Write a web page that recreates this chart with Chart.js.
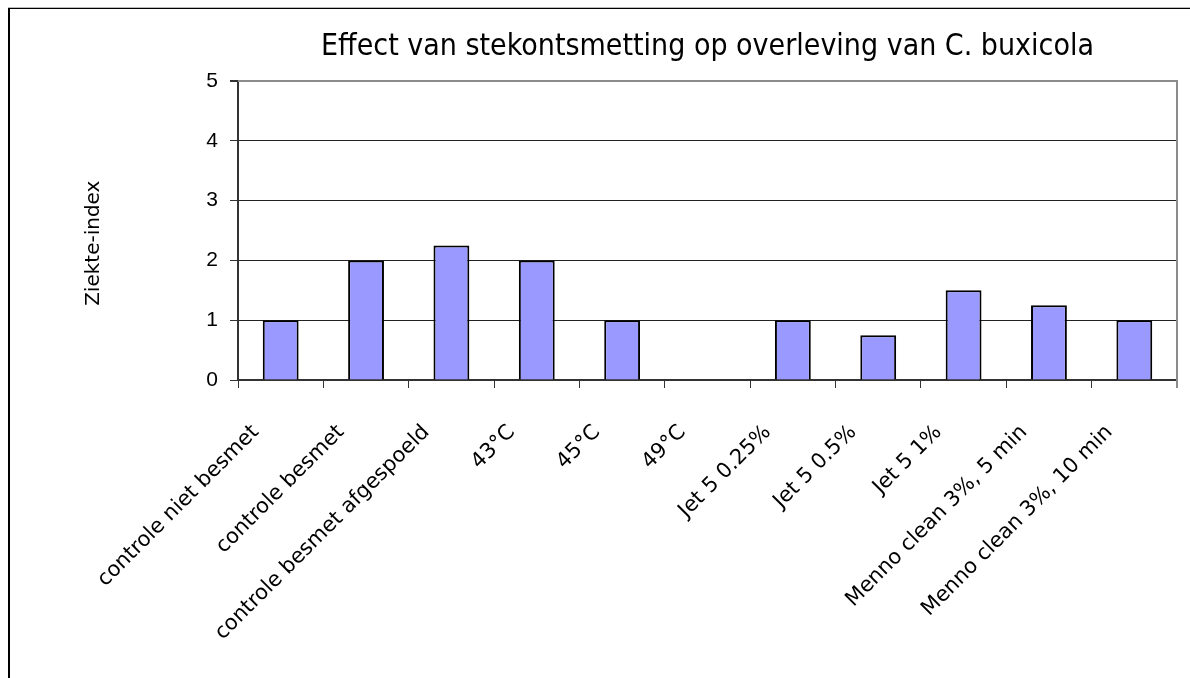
<!DOCTYPE html>
<html>
<head>
<meta charset="utf-8">
<script src="https://cdn.jsdelivr.net/npm/chart.js@4.4.1/dist/chart.umd.min.js"></script>
<style>
  html, body { margin: 0; padding: 0; background: #fff; overflow: hidden; }
  #wrap { position: absolute; left: 0; top: 0; width: 1190px; height: 678px; }
  #frame {
    position: absolute; left: 8px; top: 8px; width: 1200px; height: 700px;
    border-left: 2px solid #000; border-top: 1px solid #000;
    box-shadow: 0 -1px 0 #bbb; pointer-events: none;
  }
</style>
</head>
<body>
<div id="wrap"><canvas id="chart" width="1190" height="678"></canvas></div>
<div id="frame"></div>
<script>
// Categorieën en waarden (ziekte-index)
const behandelingen = [
    'controle niet besmet',
    'controle besmet',
    'controle besmet afgespoeld',
    '43°C',
    '45°C',
    '49°C',
    'Jet 5 0.25%',
    'Jet 5 0.5%',
    'Jet 5 1%',
    'Menno clean 3%, 5 min',
    'Menno clean 3%, 10 min'
];
const ziekteIndex = [1, 2, 2.25, 2, 1, 0, 1, 0.75, 1.5, 1.25, 1];
const yTicks = [0, 1, 2, 3, 4, 5];

const titel = 'Effect van stekontsmetting op overleving van C. buxicola';
const yTitel = 'Ziekte-index';

// Grijze rand rond het plotgebied (boven en rechts)
const plotRand = {
    id: 'plotRand',
    afterDraw(chart) {
        const { ctx, chartArea: a } = chart;
        ctx.save();
        ctx.strokeStyle = '#8c8c8c';
        ctx.lineWidth = 2;
        ctx.beginPath();
        ctx.moveTo(a.left, a.top);
        ctx.lineTo(a.right, a.top);
        ctx.lineTo(a.right, a.bottom + 8);
        ctx.stroke();
        ctx.restore();
    }
};

const ctx = document.getElementById('chart').getContext('2d');
new Chart(ctx, {
    type: 'bar',
    data: {
        labels: behandelingen,
        datasets: [{
            label: yTitel,
            data: ziekteIndex,
            backgroundColor: '#9999ff',
            borderColor: '#000',
            borderWidth: 2,
            categoryPercentage: 1,
            barPercentage: 0.42
        }]
    },
    options: {
        responsive: false,
        animation: false,
        layout: { padding: { left: 0, right: 13, top: 0, bottom: 0 } },
        plugins: {
            legend: { display: false },
            tooltip: { enabled: false },
            title: {
                display: true,
                text: titel,
                fullSize: false,
                color: '#000',
                font: { family: '"Liberation Sans Narrow", "DejaVu Sans Condensed", sans-serif', size: 30, weight: 'normal' },
                padding: { top: 29, bottom: 16 }
            }
        },
        scales: {
            x: {
                afterFit: function(scale) { scale.height = 298; },
                grid: {
                    offset: true,
                    drawOnChartArea: false,
                    tickLength: 8,
                    tickColor: '#333',
                    tickWidth: 1
                },
                border: { color: '#333', width: 2 },
                ticks: {
                    autoSkip: false,
                    maxRotation: 45,
                    minRotation: 45,
                    labelOffset: -25,
                    padding: 32,
                    color: '#000',
                    font: { family: '"DejaVu Sans", sans-serif', size: 21 }
                }
            },
            y: {
                min: 0,
                max: 5,
                afterFit: function(scale) { scale.width = 238; },
                afterBuildTicks: function(scale) {
                    scale.ticks = yTicks.map(v => ({ value: v }));
                },
                grid: {
                    color: ctx => ctx.tick && ctx.tick.value === 5 ? '#8c8c8c' : '#222',
                    lineWidth: ctx => ctx.tick && ctx.tick.value === 5 ? 2 : 1,
                    tickLength: 8,
                    tickColor: '#333'
                },
                border: { color: '#333', width: 2 },
                ticks: {
                    padding: 12,
                    color: '#000',
                    font: { family: '"Liberation Sans", Arial, sans-serif', size: 21 }
                },
                title: {
                    display: true,
                    // spaties erachter schuiven de tekst iets omlaag, zoals in het origineel
                    text: yTitel + '\u00a0\u00a0\u00a0\u00a0',
                    color: '#000',
                    font: { family: '"DejaVu Sans", sans-serif', size: 20 },
                    padding: { top: 82, bottom: 0 }
                }
            }
        }
    },
    plugins: [plotRand]
});
</script>
</body>
</html>
